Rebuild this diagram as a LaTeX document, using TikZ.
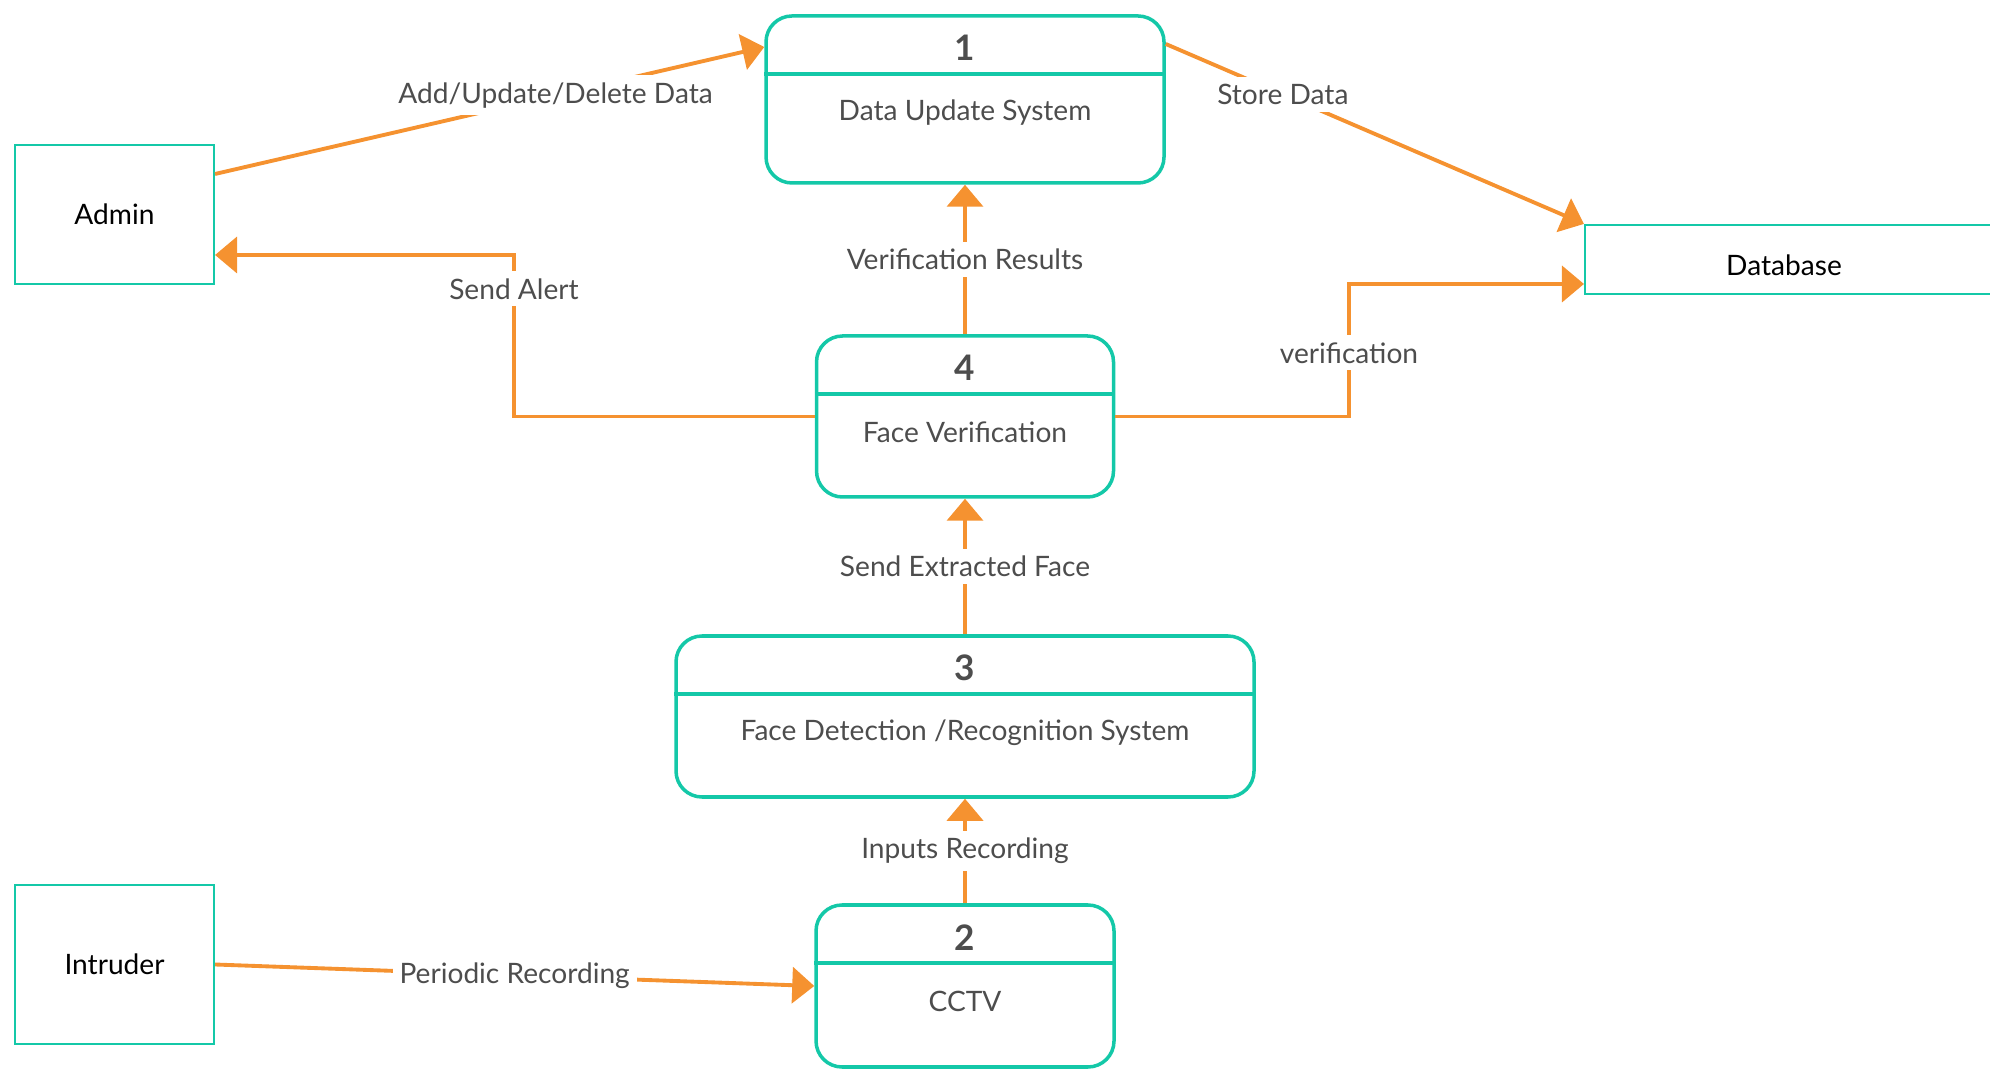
\documentclass[tikz,border=0pt]{standalone}
\usepackage{fontspec}
\setmainfont{Lato}
\usetikzlibrary{positioning,calc,arrows.meta}
\definecolor{flowteal}{RGB}{20,200,168}
\definecolor{floworange}{RGB}{245,146,48}
\definecolor{labelgray}{RGB}{77,77,77}
\tikzset{
	proc/.style={draw=flowteal,line width=1pt,rounded corners=0.26cm},
	divider/.style={draw=flowteal,line width=1pt},
	extent/.style={draw=flowteal,line width=0.6pt},
	flow/.style={draw=floworange,line width=1.1pt,-{Triangle[length=0.22cm,width=0.36cm]}},
	flowlabel/.style={fill=white,text=labelgray,inner sep=2pt},
}
\begin{document}
\begin{tikzpicture}[font=\fontsize{8}{10}\selectfont]
		\useasboundingbox (0,0) rectangle (19.9,10.8);
		\clip (0,0) rectangle (19.9,10.8);
		% processes
		\node[proc,minimum width=3.98cm,minimum height=1.67cm] (p1) at (9.65,9.805) {};
		\node[text=labelgray,font=\bfseries] (p1num) at ($(p1.north)+(0,-0.34)$) {1};
		\draw[divider] ($(p1.north west)+(0,-0.6)$)--($(p1.north east)+(0,-0.6)$);
		\node[text=labelgray] (p1txt) at ($(p1.north)+(0,-0.98)$) {Data Update System};
		
		\node[proc,minimum width=2.97cm,minimum height=1.61cm] (p4) at (9.65,6.635) {};
		\node[text=labelgray,font=\bfseries] (p4num) at ($(p4.north)+(0,-0.34)$) {4};
		\draw[divider] ($(p4.north west)+(0,-0.6)$)--($(p4.north east)+(0,-0.6)$);
		\node[text=labelgray] (p4txt) at ($(p4.north)+(0,-0.98)$) {Face Verification};
		
		\node[proc,minimum width=5.78cm,minimum height=1.61cm] (p3) at (9.65,3.635) {};
		\node[text=labelgray,font=\bfseries] (p3num) at ($(p3.north)+(0,-0.34)$) {3};
		\draw[divider] ($(p3.north west)+(0,-0.6)$)--($(p3.north east)+(0,-0.6)$);
		\node[text=labelgray] (p3txt) at ($(p3.north)+(0,-0.98)$) {Face Detection /Recognition System};
		
		\node[proc,minimum width=2.98cm,minimum height=1.62cm] (p2) at (9.65,0.94) {};
		\node[text=labelgray,font=\bfseries] (p2num) at ($(p2.north)+(0,-0.34)$) {2};
		\draw[divider] ($(p2.north west)+(0,-0.6)$)--($(p2.north east)+(0,-0.6)$);
		\node[text=labelgray] (p2txt) at ($(p2.north)+(0,-0.98)$) {CCTV};
		
		% external entities
		\node[extent,minimum width=1.99cm,minimum height=1.39cm] (admin) at (1.145,8.655) {Admin};
		\node[extent,minimum width=1.99cm,minimum height=1.59cm] (intruder) at (1.145,1.155) {Intruder};
		\node[extent,minimum width=4.3cm,minimum height=0.69cm] (db) at (18.0,8.205) {};
		\node (dbtxt) at (17.84,8.15) {Database};
		
		% flows
		\draw[flow] ($(admin.east)+(0,0.405)$)--($(p1.west)+(0,0.525)$) node[flowlabel,pos=0.62] {Add/Update/Delete Data};
		\draw[flow] ($(p1.east)+(0,0.555)$)--(db.north west) node[flowlabel,pos=0.28] {Store Data};
		\draw[flow] (p4.north)--(p1.south) node[flowlabel,pos=0.5] {Verification Results};
		\draw[flow] (p3.north)--(p4.south) node[flowlabel,pos=0.5] {Send Extracted Face};
		\draw[flow] (p2.north)--(p3.south) node[flowlabel,pos=0.5] {Inputs Recording};
		\draw[flow] (intruder.east)--(p2.west) node[flowlabel,pos=0.5] {Periodic Recording};
		
		\coordinate (alertbend) at (5.14,8.25);
		\draw[flow] (p4.west) -| (alertbend) node[flowlabel,pos=0.895] {Send Alert} -- (admin.east |- alertbend);
		\coordinate (verbend) at (13.49,7.96);
		\draw[flow] (p4.east) -| (verbend) node[flowlabel,pos=0.74] {verification} -- (db.west |- verbend);
	\end{tikzpicture}
\end{document}
